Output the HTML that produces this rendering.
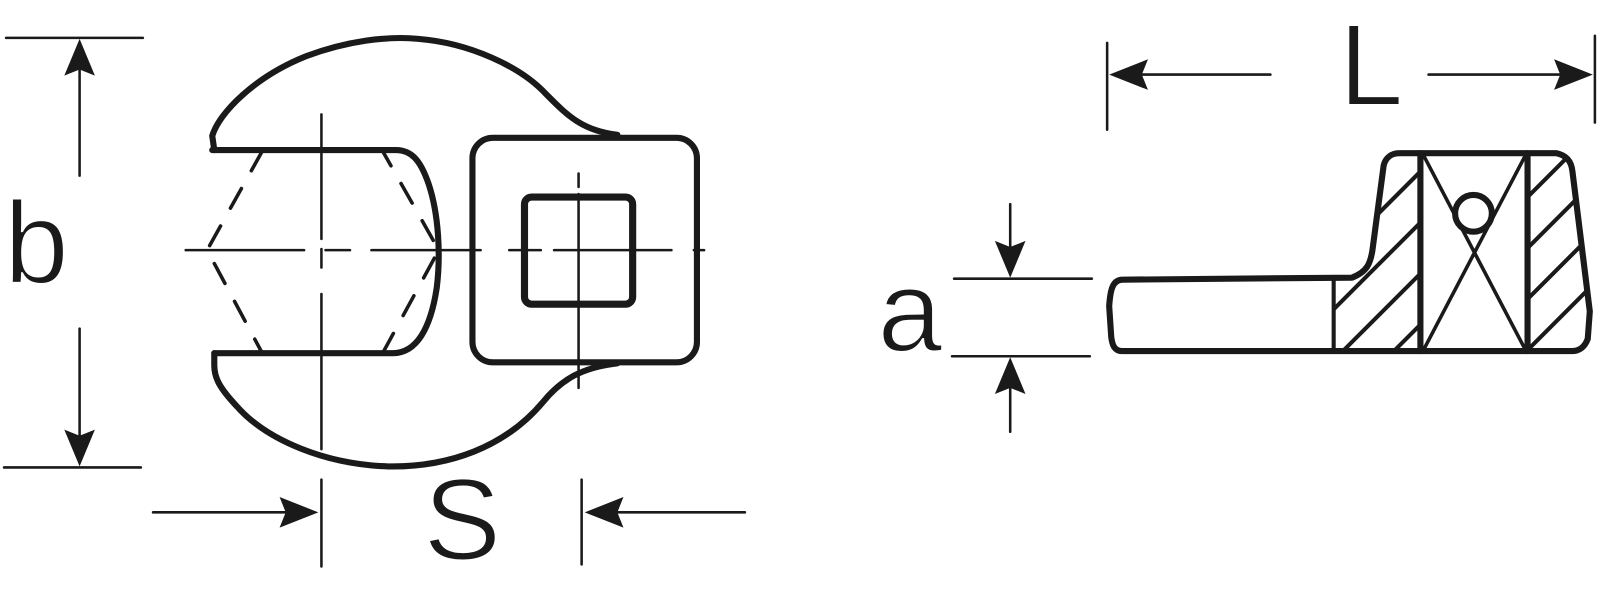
<!DOCTYPE html>
<html><head><meta charset="utf-8"><style>html,body{margin:0;padding:0;background:#fff}svg{display:block}</style></head>
<body>
<svg width="1600" height="591" viewBox="0 0 1568 579" xmlns="http://www.w3.org/2000/svg">
<defs>
<clipPath id="hl"><path d="M1307,274 L1325,272 C1340,266 1343,258 1345,245 L1356,162 C1358,154 1364,150 1372,150 L1392,150 L1392,344 L1307,344 Z"/></clipPath>
<clipPath id="hr"><path d="M1497,150 L1525,150 C1535,152 1540,158 1541,168 L1558,305 L1556,332 C1553,340 1548,344 1540,344 L1497,344 Z"/></clipPath>
</defs>
<g fill="none" stroke="#1a1a1a" stroke-linejoin="round" stroke-linecap="round">
<path stroke-width="6" d="M210,147 L208,133 C215,110 250,75 300,55 C340,40 380,35 410,38 C460,42 510,65 535,92 C555,112 570,128 605,132"/>
<path stroke-width="6" d="M605,356 C570,360 550,372 532,394 C495,438 440,458 380,457 C320,455 262,432 232,398 C215,380 210,370 210,358 L210,346"/>
<path stroke-width="6" d="M208,147 L388,147 C405,147 413,160 420,180 C430,210 432,250 428,282 C422,322 408,346 385,346 L210,346"/>
<rect x="463" y="135" width="220" height="220" rx="20" stroke-width="6"/>
<rect x="514" y="193" width="106" height="105" rx="7" stroke-width="7"/>
<path stroke-width="3.5" stroke-dasharray="22 20" d="M257,148 L203,245 L257,346 M375,346 L430,245 L375,148"/>
<path stroke-width="2.5" d="M182,245 H298 M319,245 H343 M364,245 H471 M499,245 H530 M543,245 H658 M680,245 H690 M315,112 V234 M315,244 V262 M315,288 V440 M567,170 V183 M567,190 V380"/>
<path stroke-width="6" d="M1100,274 L1325,272 C1340,266 1343,258 1345,245 L1356,162 C1358,154 1364,150 1372,150 L1525,150 C1535,152 1540,158 1541,168 L1558,305 L1556,332 C1553,340 1548,344 1540,344 L1100,344 C1092,344 1090,338 1089,330 L1087,300 C1088,285 1090,274 1100,274 Z"/>
<path stroke-width="4" d="M1307,274 V344"/>
<path stroke-width="6" d="M1392,150 V344 M1497,150 V344"/>
<path stroke-width="3.5" d="M1395,152 L1495,343 M1495,152 L1395,343"/>
<circle cx="1444" cy="209" r="18" stroke-width="6" fill="#fff"/>
<g clip-path="url(#hl)" stroke-width="4">
<path d="M1280,380 L1480,180 M1280,330 L1480,130 M1280,280 L1480,80 M1280,230 L1480,30 M1280,180 L1480,-20 M1280,430 L1480,230"/>
</g>
<g clip-path="url(#hr)" stroke-width="4">
<path d="M1480,210 L1600,90 M1480,260 L1600,140 M1480,310 L1600,190 M1480,360 L1600,240 M1480,410 L1600,290 M1480,460 L1600,340"/>
</g>
<path stroke-width="2.5" d="M6,37 H140 M4,458 H138 M78,60 V172 M78,322 V436
M150,502 H290 M315,470 V555 M570,470 V553 M730,502 H592
M1085,42 V127 M1563,35 V120 M1245,73 H1108 M1400,73 H1538
M935,273 H1070 M933,349 H1068 M990,200 V252 M990,423 V370"/>
</g>
<g fill="#1a1a1a">
<polygon points="78,38 63,74 78,68 93,74"/>
<polygon points="78,457 63,421 78,427 93,421"/>
<polygon points="312,502 274,487 280,502 274,517"/>
<polygon points="573,502 611,487 605,502 611,517"/>
<polygon points="1087,73 1125,58 1119,73 1125,88"/>
<polygon points="1561,73 1523,58 1529,73 1523,88"/>
<polygon points="990,272 975,236 990,242 1005,236"/>
<polygon points="990,350 975,386 990,380 1005,386"/>
</g>
<g font-family="Liberation Sans, sans-serif" fill="#1a1a1a" font-size="114" stroke="#fff" stroke-width="2">
<text x="4" y="277">b</text>
<text x="453" y="548" text-anchor="middle">S</text>
<text x="1312" y="103">L</text>
<text x="860" y="344">a</text>
</g>
</svg>
</body></html>
